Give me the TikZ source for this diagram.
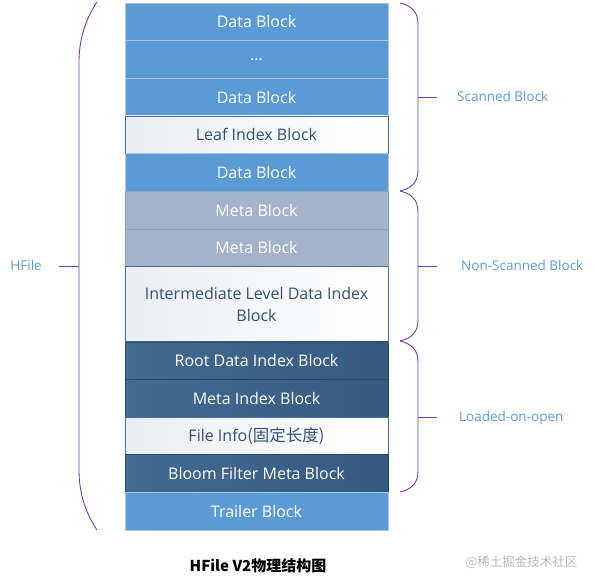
\documentclass[tikz,border=0pt]{standalone}
\usepackage{fontspec}
\setmainfont{Open Sans}
\newfontfamily\cjk{Noto Sans CJK SC}
\usetikzlibrary{positioning}

\definecolor{datablue}{RGB}{91,155,213}
\definecolor{dataline}{RGB}{165,198,232}
\definecolor{metagray}{RGB}{164,179,202}
\definecolor{metaline}{RGB}{145,160,186}
\definecolor{idxleft}{RGB}{68,106,146}
\definecolor{idxright}{RGB}{54,90,130}
\definecolor{idxline}{RGB}{40,72,108}
\definecolor{plainleft}{RGB}{234,237,243}
\definecolor{plainline}{RGB}{68,112,155}
\definecolor{plaintext}{RGB}{50,82,122}
\definecolor{bracepurple}{RGB}{118,60,170}
\definecolor{labelblue}{RGB}{91,155,213}

\tikzset{
    blk/.style={minimum width=263pt, minimum height=37.64pt, inner sep=0pt, outer sep=0pt,
        font=\fontsize{16}{22}\selectfont, align=center},
    datablk/.style={blk, fill=datablue, draw=dataline, text=white},
    metablk/.style={blk, fill=metagray, draw=metaline, text=white},
    idxblk/.style={blk, left color=idxleft, right color=idxright, draw=idxline, text=white},
    plainblk/.style={blk, left color=plainleft, right color=white, draw=plainline, text=plaintext},
    brace/.style={draw=bracepurple, line width=0.9pt},
    tag/.style={text=labelblue, font=\fontsize{13.5}{16}\selectfont, inner sep=0pt,
        text height=9.6pt, text depth=0pt}
}

\begin{document}
\begin{tikzpicture}[x=1pt, y=-1pt]
    \useasboundingbox (0,0) rectangle (595,586);

    % Blocks of the file
    \node [datablk] (data1) at (256.5,21.8) {Data Block};
    \node [datablk, below=0pt of data1] (dots) {...};
    \node [datablk, below=0pt of dots] (data2) {Data Block};
    \node [plainblk, below=0pt of data2] (leaf) {Leaf Index Block};
    \node [datablk, below=0pt of leaf] (data3) {Data Block};
    \node [metablk, below=0pt of data3] (meta1) {Meta Block};
    \node [metablk, below=0pt of meta1] (meta2) {Meta Block};
    \node [plainblk, minimum height=75.28pt, below=0pt of meta2] (inter) {Intermediate Level Data Index\\Block};
    \node [idxblk, below=0pt of inter] (root) {Root Data Index Block};
    \node [idxblk, below=0pt of root] (metaidx) {Meta Index Block};
    \node [plainblk, below=0pt of metaidx] (finfo) {File Info{\cjk\fontsize{16.5}{22}\selectfont (固定长度)}};
    \node [idxblk, below=0pt of finfo] (bloom) {Bloom Filter Meta Block};
    \node [datablk, below=0pt of bloom] (trailer) {Trailer Block};

    % HFile brace
    \draw [brace] (97,2) .. controls (85,20) and (79,40) .. (79,62) -- (79,470)
        .. controls (79,492) and (85,512) .. (97,530);
    \draw [brace] (79,266) -- ++(-20,0) coordinate (hf);
    \node [tag, anchor=east] at ([xshift=-17pt]hf) {HFile};

    % Scanned brace
    \draw [brace] (400,3) .. controls (412,6) and (418,12) .. (418,24) -- (418,170)
        .. controls (418,182) and (412,188) .. (400,191);
    \draw [brace] (418,97) -- ++(19,0) coordinate (sc);
    \node [tag, anchor=west] at ([xshift=20pt]sc) {Scanned Block};

    % Non-scanned brace
    \draw [brace] (400,191) .. controls (412,194) and (418,200) .. (418,212) -- (418,320)
        .. controls (418,332) and (412,338) .. (400,341);
    \draw [brace] (418,266) -- ++(19,0) coordinate (ns);
    \node [tag, anchor=west] at ([xshift=24pt]ns) {Non-Scanned Block};

    % Loaded-on-open brace
    \draw [brace] (400,341) .. controls (412,344) and (418,350) .. (418,362) -- (418,471)
        .. controls (418,483) and (412,489) .. (400,492);
    \draw [brace] (418,417) -- ++(19,0) coordinate (lo);
    \node [tag, anchor=west] at ([xshift=22pt]lo) {Loaded-on-open};

    % Caption
    \node [font=\fontsize{15}{18}\selectfont\cjk\bfseries] (caption) at (258,566) {HFile V2物理结构图};
    \node [font=\fontsize{12.5}{15}\selectfont\cjk, text=black!28, anchor=east] (mark) at (581,562) {@稀土掘金技术社区};
\end{tikzpicture}
\end{document}
